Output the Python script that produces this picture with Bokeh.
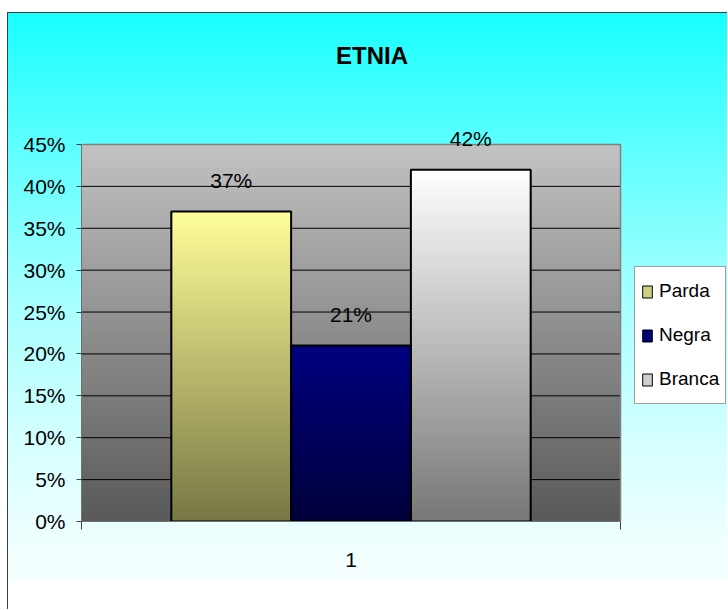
import numpy as np
from bokeh.plotting import figure
from bokeh.models import (Label, Legend, LegendItem, FixedTicker, NumeralTickFormatter,
                          ColumnDataSource)
from bokeh.core.properties import value
from bokeh.embed import file_html
from bokeh.resources import INLINE

# ---- data ----
title_text = "ETNIA"
category_labels = ["1"]
series = ["Parda", "Negra", "Branca"]
shares = [0.37, 0.21, 0.42]
share_labels = ["37%", "21%", "42%"]
y_ticks = [0.0, 0.05, 0.10, 0.15, 0.20, 0.25, 0.30, 0.35, 0.40, 0.45]

# ---- styles / layout ----
FONT = "Liberation Sans"
top_colors = [(255, 255, 153), (0, 0, 128), (255, 255, 255)]
bottom_colors = [(119, 119, 68), (0, 0, 58), (119, 119, 119)]
legend_colors = ["#CFCF85", "#000075", "#CFCFCF"]

W, H = 720, 597                 # figure size (placed at page x=8, y=13)
FL, FB = 73, 89                 # frame left / bottom borders
PX_PER_X = 539.0                # pixels per category unit
PX_PER_Y = 377.0 / 0.45         # pixels per unit share
Y_MAX = y_ticks[-1]


def gradient(top, bottom, n=256):
    t = np.linspace(0.0, 1.0, n)[:, None]  # row 0 = bottom
    b = np.array(bottom, dtype=float)
    tp = np.array(top, dtype=float)
    c = (b * (1 - t) + tp * t).round().astype(np.uint32)
    img = (255 << 24) | (c[:, 2] << 16) | (c[:, 1] << 8) | c[:, 0]
    return img.reshape(n, 1).astype(np.uint32)


x0 = 0.5
x1 = x0 + 1.0
x_end = x0 + (W - FL) / PX_PER_X
y_end = (H - FB) / PX_PER_Y

p = figure(width=W, height=H, x_range=(x0, x_end), y_range=(0, y_end),
           output_backend="svg", toolbar_location=None,
           min_border_left=FL, min_border_right=0, min_border_top=0,
           min_border_bottom=FB)
p.border_fill_alpha = 0
p.background_fill_alpha = 0
p.outline_line_color = None
p.styles = {
    "margin-top": "12px",
    "margin-left": "7px",
    "border-top": "1px solid #404040",
    "border-left": "1px solid #404040",
    "background": ("linear-gradient(to bottom, #17FFFF 0%, #55FFFF 19.6%, "
                   "#A6FFFF 48%, #D6FFFF 73%, #F3FFFF 91.6%, #F5FFFF 95.2%, "
                   "#FFFFFF 95.3%, #FFFFFF 100%)"),
}

# plot area gradient
bg = p.image_rgba(image=[gradient((194, 194, 194), (89, 89, 89))], x=x0, y=0,
                  dw=1.0, dh=Y_MAX)
bg.level = "image"

# horizontal gridlines (inside the plot area only)
grid_y = [t for t in y_ticks if 0 < t < Y_MAX]
p.segment(x0=[x0] * len(grid_y), x1=[x1] * len(grid_y), y0=grid_y, y1=grid_y,
          line_color="black", line_width=1)
# plot-area border (top and right, gray)
p.line(x=[x0, x1, x1], y=[Y_MAX, Y_MAX, 0], line_color="#808080", line_width=1.5)

# bars
n = len(series)
group = 2.0 / 3.0
bw = group / n
centers = [1.0 - group / 2 + bw * (i + 0.5) for i in range(n)]
src = ColumnDataSource(dict(x=centers, top=shares, color=legend_colors,
                            label=share_labels, name=series))
fill_r = p.vbar(x="x", top="top", width=bw, source=src, fill_color="color",
                line_color="black", line_width=1)
for i in range(n):
    p.image_rgba(image=[gradient(top_colors[i], bottom_colors[i])],
                 x=centers[i] - bw / 2, y=0, dw=bw, dh=shares[i])
p.vbar(x="x", top="top", width=bw, source=src, fill_alpha=0,
       line_color="black", line_width=2)

# data labels
p.text(x="x", y="top", text="label", source=src, text_align="center",
       text_baseline="middle", y_offset=-31, text_font=value(FONT),
       text_font_size="21px", text_color="black")

# title
p.add_layout(Label(x=x0 + (371.5 - 81) / PX_PER_X, y=(521 - 55) / PX_PER_Y,
                   text=title_text, text_align="center",
                   text_baseline="middle", text_font=FONT, text_font_size="24px",
                   text_font_style="bold", text_color="black"))

# axes
p.xgrid.visible = False
p.ygrid.visible = False

ya = p.yaxis[0]
ya.bounds = (0, Y_MAX)
ya.ticker = FixedTicker(ticks=y_ticks)
ya.formatter = NumeralTickFormatter(format="0%")
ya.major_label_text_font = FONT
ya.major_label_text_font_size = "21px"
ya.major_label_text_color = "black"
ya.axis_line_color = "#707070"
ya.major_tick_line_color = "#404040"
ya.major_tick_out = 5
ya.major_tick_in = 0
ya.minor_tick_line_color = None
ya.major_label_standoff = 11

xa = p.xaxis[0]
xa.bounds = (x0, x1)
xa.ticker = FixedTicker(ticks=[1.0], minor_ticks=[x0, x1])
xa.major_label_overrides = {1: category_labels[0]}
xa.major_label_text_font = FONT
xa.major_label_text_font_size = "21px"
xa.major_label_text_color = "black"
xa.axis_line_color = "#707070"
xa.major_tick_line_color = None
xa.major_tick_out = 0
xa.major_tick_in = 0
xa.minor_tick_line_color = "#404040"
xa.minor_tick_out = 8
xa.minor_tick_in = 0
xa.major_label_standoff = 23

# legend
items = [LegendItem(label=series[i], renderers=[fill_r], index=i) for i in range(n)]
legend = Legend(items=items, location=(553, 117), orientation="vertical",
                label_text_font=FONT, label_text_font_size="19px",
                label_text_color="black", glyph_width=12, glyph_height=15,
                label_height=36, label_standoff=6, spacing=8, padding=6,
                border_line_color="#404040", border_line_width=1,
                background_fill_color="white", background_fill_alpha=1,
                margin=0)
p.add_layout(legend, "center")

open("out.html", "w").write(file_html(p, INLINE))
